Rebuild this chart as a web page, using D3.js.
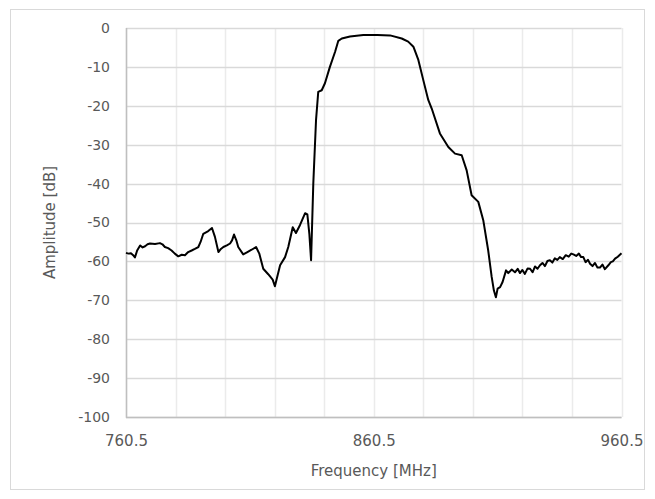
<!DOCTYPE html>
<html>
<head>
<meta charset="utf-8">
<script src="https://cdn.jsdelivr.net/npm/d3@7"></script>
<style>
  html, body { margin: 0; padding: 0; background: #fff; }
  svg { display: block; font-family: "DejaVu Sans", sans-serif; }
</style>
</head>
<body>
<svg id="chart"></svg>
<script>
(function () {

  var width = 655, height = 499;

  // frequency [MHz] and amplitude [dB]
  var freqMHz = [
    760.5, 761.5, 762.5, 763.4, 764.1, 765.0, 766.2, 767.2, 768.2, 769.2,
    770.2, 772.2, 774.2, 775.2, 776.2, 777.5, 778.9, 780.2, 781.6, 783.0,
    784.3, 785.6, 787.0, 788.3, 789.7, 790.6, 791.7, 793.7, 795.2, 796.4,
    797.8, 798.8, 799.8, 801.2, 802.5, 803.3, 804.1, 805.0, 805.8, 807.8,
    809.5, 811.2, 813.0, 814.3, 815.9, 817.9, 819.7, 820.6, 822.7, 824.7,
    826.0, 827.8, 829.1, 830.7, 832.8, 833.7, 834.5, 835.2, 836.1, 837.2,
    838.1, 839.5, 840.8, 842.8, 844.9, 846.2, 847.6, 850.9, 856.3, 862.0,
    867.1, 871.8, 874.4, 876.5, 878.5, 880.5, 882.5, 883.9, 887.2, 890.6,
    893.3, 896.0, 898.0, 900.0, 902.7, 904.7, 906.7, 908.1, 909.0, 909.8,
    910.5, 911.5, 912.5, 913.9, 914.8, 916.2, 917.5, 918.6, 919.5, 920.5,
    921.5, 922.6, 923.6, 924.6, 925.6, 926.6, 927.6, 928.6, 929.6, 930.6,
    931.6, 932.6, 933.6, 934.6, 935.6, 936.8, 938.0, 939.2, 940.2, 941.1,
    942.2, 943.3, 944.2, 945.1, 946.0, 947.0, 947.8, 948.8, 949.8, 950.8,
    951.8, 952.8, 953.8, 955.2, 956.2, 957.0, 957.9, 959.0, 960.5
  ];
  var ampDb = [
    -57.8, -58.0, -57.9, -58.4, -59.0, -57.2, -55.9, -56.4, -56.1, -55.6,
    -55.4, -55.5, -55.3, -55.6, -56.3, -56.6, -57.2, -58.0, -58.7, -58.3,
    -58.4, -57.6, -57.2, -56.8, -56.3, -55.0, -52.9, -52.2, -51.4, -53.7,
    -57.6, -56.8, -56.3, -55.9, -55.4, -54.6, -53.1, -54.5, -56.3, -58.2,
    -57.6, -57.0, -56.3, -58.0, -61.9, -63.3, -64.7, -66.4, -61.0, -58.9,
    -56.3, -51.2, -52.7, -50.7, -47.6, -47.9, -52.9, -59.7, -40.0, -23.7,
    -16.4, -16.0, -14.2, -10.0, -6.1, -3.3, -2.7, -2.2, -1.8, -1.8,
    -1.9, -2.7, -3.5, -4.8, -8.2, -13.4, -18.5, -20.7, -27.1, -30.6,
    -32.3, -32.7, -36.6, -43.0, -44.7, -49.4, -57.2, -64.0, -67.5, -69.2,
    -67.0, -66.6, -65.3, -62.3, -63.0, -62.1, -62.8, -61.9, -63.0, -62.2,
    -63.2, -61.8, -61.9, -62.8, -61.3, -61.9, -61.0, -60.4, -61.2, -59.9,
    -59.7, -60.3, -59.2, -59.6, -58.9, -59.4, -58.4, -58.8, -58.0, -58.2,
    -58.6, -58.0, -58.9, -58.9, -60.2, -59.6, -60.6, -61.2, -60.4, -61.6,
    -61.6, -60.8, -62.0, -61.0, -60.2, -60.0, -59.3, -58.8, -57.9
  ];

  var yTicks = [0, -10, -20, -30, -40, -50, -60, -70, -80, -90, -100];
  var xGrid = [760.5, 780.5, 800.5, 820.5, 840.5, 860.5, 880.5, 900.5, 920.5, 940.5, 960.5];
  var xLabels = [760.5, 860.5, 960.5];

  var plot = { left: 126, top: 28, right: 621.5, bottom: 417 };

  var x = d3.scaleLinear().domain([760.5, 960.5]).range([plot.left, plot.right]);
  var y = d3.scaleLinear().domain([-100, 0]).range([plot.bottom, plot.top]);

  var svg = d3.select('#chart')
    .attr('width', width)
    .attr('height', height);

  // chart border
  svg.append('rect')
    .attr('x', 10.5).attr('y', 9.5)
    .attr('width', 634).attr('height', 480)
    .attr('fill', '#fff')
    .attr('stroke', '#d9d9d9');

  // vertical gridlines (lighter)
  svg.append('g')
    .selectAll('line')
    .data(xGrid)
    .join('line')
    .attr('x1', function (d) { return Math.round(x(d)) + 0.5; })
    .attr('x2', function (d) { return Math.round(x(d)) + 0.5; })
    .attr('y1', plot.top)
    .attr('y2', plot.bottom)
    .attr('stroke', '#ebebeb')
    .attr('stroke-width', 1.5);

  // horizontal gridlines
  svg.append('g')
    .selectAll('line')
    .data(yTicks)
    .join('line')
    .attr('x1', plot.left)
    .attr('x2', plot.right)
    .attr('y1', function (d) { return Math.round(y(d)) + 0.5; })
    .attr('y2', function (d) { return Math.round(y(d)) + 0.5; })
    .attr('stroke', '#d9d9d9')
    .attr('stroke-width', 1.5);

  // axis lines
  svg.append('line')
    .attr('x1', plot.left + 0.5).attr('x2', plot.left + 0.5)
    .attr('y1', plot.top).attr('y2', plot.bottom + 1)
    .attr('stroke', '#bfbfbf').attr('stroke-width', 1.5);
  svg.append('line')
    .attr('x1', plot.left).attr('x2', plot.right)
    .attr('y1', plot.bottom + 0.5).attr('y2', plot.bottom + 0.5)
    .attr('stroke', '#bfbfbf').attr('stroke-width', 1.5);

  // y tick labels (plain hyphen minus, as in the reference)
  var yAxis = d3.axisLeft(y).tickValues(yTicks).tickSize(0).tickPadding(16)
    .tickFormat(function (d) { return String(d); });
  var gy = svg.append('g')
    .attr('transform', 'translate(' + plot.left + ',0)')
    .call(yAxis);
  gy.select('.domain').remove();
  gy.selectAll('text')
    .attr('fill', '#595959')
    .style('font-size', '14px')
    .style('font-family', '"DejaVu Sans", sans-serif');

  // x tick labels
  var xAxis = d3.axisBottom(x).tickValues(xLabels).tickSize(0).tickPadding(18)
    .tickFormat(d3.format('.1f'));
  var gx = svg.append('g')
    .attr('transform', 'translate(0,' + plot.bottom + ')')
    .call(xAxis);
  gx.select('.domain').remove();
  gx.selectAll('text')
    .attr('fill', '#595959')
    .style('font-size', '15px')
    .style('font-family', '"DejaVu Sans", sans-serif');

  // axis titles
  svg.append('text')
    .attr('x', (plot.left + plot.right) / 2)
    .attr('y', 476)
    .attr('text-anchor', 'middle')
    .attr('fill', '#595959')
    .style('font-size', '15px')
    .text('Frequency [MHz]');

  svg.append('text')
    .attr('transform', 'translate(55,' + ((plot.top + plot.bottom) / 2) + ') rotate(-90)')
    .attr('text-anchor', 'middle')
    .attr('fill', '#595959')
    .style('font-size', '15px')
    .text('Amplitude [dB]');

  // trace
  var line = d3.line()
    .x(function (d, i) { return x(freqMHz[i]); })
    .y(function (d) { return y(d); });

  svg.append('path')
    .datum(ampDb)
    .attr('d', line)
    .attr('fill', 'none')
    .attr('stroke', '#000')
    .attr('stroke-width', 2)
    .attr('stroke-linejoin', 'round');

})();
</script>
</body>
</html>
